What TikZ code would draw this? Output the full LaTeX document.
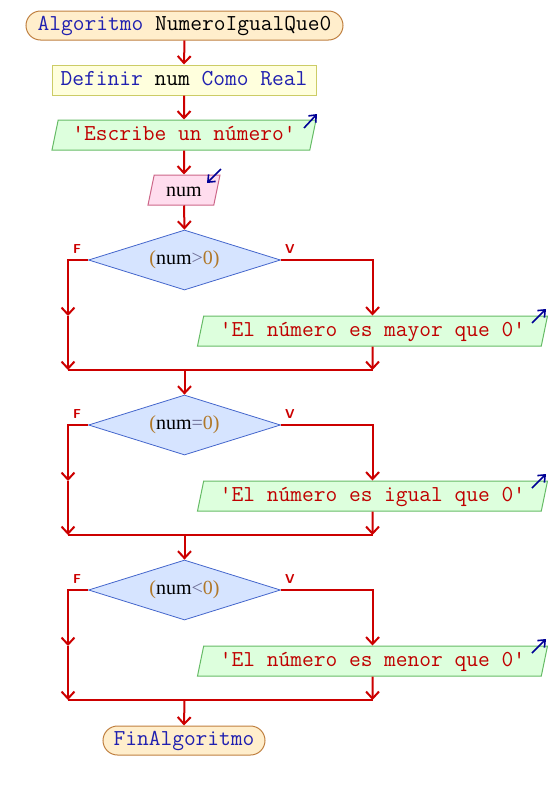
\documentclass[tikz,border=0pt]{standalone}
\usepackage{fontspec}
\newfontfamily\serf{Liberation Serif}
\usetikzlibrary{shapes.geometric,arrows.meta}
\definecolor{kw}{RGB}{32,32,176}
\definecolor{str}{RGB}{192,0,0}
\definecolor{numc}{RGB}{176,120,40}
\definecolor{opc}{RGB}{110,110,150}
\definecolor{flow}{RGB}{204,0,0}
\definecolor{ioarrow}{RGB}{0,0,150}
\newcommand{\q}{\textquotesingle}
\tikzset{
  base/.style={font=\ttfamily\fontsize{22.8}{26}\selectfont, inner sep=0pt, text height=14, text depth=4},
  term/.style={base, draw={rgb,255:red,192;green,128;blue,64}, fill={rgb,255:red,255;green,238;blue,204},
    rounded corners=14.5, minimum height=29, line width=1},
  defbox/.style={base, draw={rgb,255:red,204;green,204;blue,102}, fill={rgb,255:red,255;green,255;blue,221},
    minimum height=30, line width=1},
  para/.style={base, trapezium, trapezium left angle=71, trapezium right angle=109,
    trapezium stretches body=true, minimum height=30, line width=1},
  outbox/.style={para, draw={rgb,255:red,102;green,187;blue,102}, fill={rgb,255:red,221;green,255;blue,221}},
  inbox/.style={para, draw={rgb,255:red,204;green,102;blue,136}, fill={rgb,255:red,255;green,221;blue,238}},
  cond/.style={diamond, aspect=3.2, draw={rgb,255:red,68;green,102;blue,204}, fill={rgb,255:red,214;green,228;blue,255},
    minimum width=192, minimum height=60, inner sep=0pt, line width=0.8,
    font=\serf\fontsize{20}{24}\selectfont},
  flowline/.style={draw=flow, line width=2},
  arr/.style={flowline, -{Straight Barb[length=7,width=13,line width=2]}},
  tag/.style={text=flow, font=\sffamily\bfseries\fontsize{13}{14}\selectfont, inner sep=0pt},
  iomark/.style={draw=ioarrow, line width=1.6, -{Straight Barb[length=6,width=10,line width=1.6]}},
}
\begin{document}
\begin{tikzpicture}[x=1pt,y=-1pt]
\useasboundingbox (0,0) rectangle (550,790);

% program header and declarations
\node[term, minimum width=317] (start) at (184.5,25.5) {\textcolor{kw}{Algoritmo} NumeroIgualQue0};
\node[defbox, minimum width=264] (def) at (184,80) {\textcolor{kw}{Definir} num \textcolor{kw}{Como Real}};
\node[outbox, minimum width=264] (ask) at (184,135) {\textcolor{str}{\q Escribe un número\q}};
\node[inbox, minimum width=72, text height=15, text depth=3] (read) at (184,190) {\serf\fontsize{20}{24}\selectfont num};

\draw[arr] (start.south) -- (def.north);
\draw[arr] (def.south) -- (ask.north);
\draw[arr] (ask.south) -- (read.north);

% input / output markers
\coordinate (askm0) at (304,128);
\coordinate (askm1) at (317,114);
\draw[iomark] (askm0) -- (askm1);
\coordinate (readm0) at (221,169);
\coordinate (readm1) at (207,183);
\draw[iomark] (readm0) -- (readm1);

% three conditional blocks
\foreach \i/\op/\word [count=\k from 0] in {1/>/mayor, 2/=/igual, 3/</menor}{
  \pgfmathsetmacro{\dy}{165*\k}
  \node[cond] (d\i) at (184.5,260+\dy) {\textcolor{numc}{(}num\textcolor{opc}{\op}\textcolor{numc}{0)}};
  \node[tag] (f\i) at (77,249+\dy) {F};
  \node[tag] (v\i) at (290,249+\dy) {V};
  \node[outbox, minimum width=350] (o\i) at (372.5,331+\dy) {\textcolor{str}{\q El número es \word\ que 0\q}};
  \coordinate (om0\i) at (532,323+\dy);
  \coordinate (om1\i) at (546,309+\dy);
  \draw[iomark] (om0\i) -- (om1\i);
  \coordinate (lf\i) at (68,316+\dy);
  \coordinate (jl\i) at (68,370+\dy);
  \coordinate (jr\i) at (372.5,370+\dy);
  \coordinate (jm\i) at (184.5,370+\dy);
  \draw[arr] (d\i.west) -| (lf\i);
  \draw[arr] (lf\i) -- (jl\i);
  \draw[arr] (d\i.east) -| (o\i.north);
  \draw[arr] (o\i.south) -- (jr\i);
  \draw[flowline] (jl\i) -- (jr\i);
}

\draw[arr] (read.south) -- (d1.north);
\draw[arr] (jm1) -- (d2.north);
\draw[arr] (jm2) -- (d3.north);

% end of program
\node[term, minimum width=162] (stop) at (184,740.5) {\textcolor{kw}{FinAlgoritmo}};
\draw[arr] (jm3) -- (stop.north);
\end{tikzpicture}
\end{document}
